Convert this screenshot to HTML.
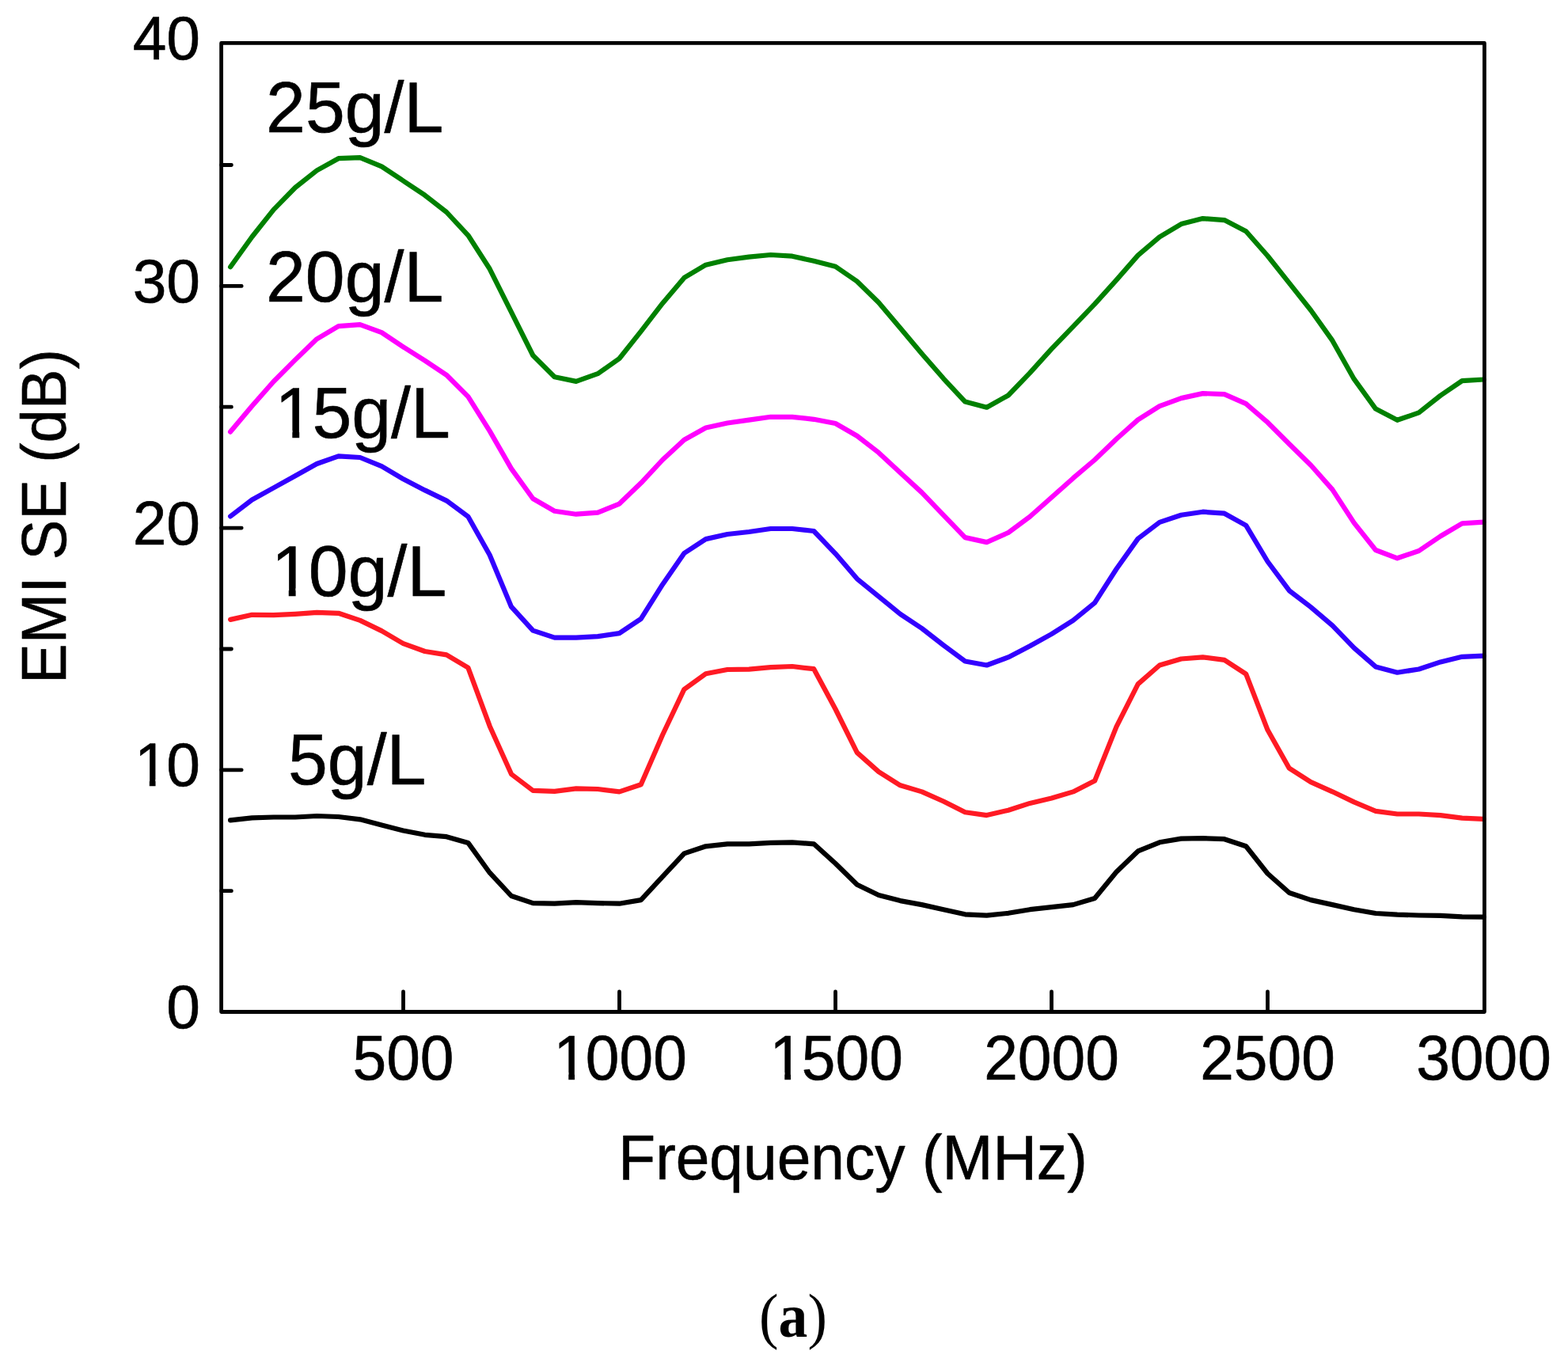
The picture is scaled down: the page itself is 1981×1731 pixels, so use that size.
<!DOCTYPE html>
<html lang="en">
<head>
<meta charset="utf-8">
<title>EMI SE versus Frequency</title>
<style>
html,body{margin:0;padding:0;background:#fff;}
html,body{width:1981px;height:1731px;}
svg{display:block;}
text{font-family:"Liberation Sans",Arial,Helvetica,sans-serif;fill:#000;stroke:#000;stroke-width:0.6px;stroke-linejoin:round;}
text.cap{font-family:"Liberation Serif","Times New Roman",serif;stroke:none;}
</style>
</head>
<body>
<svg width="1981" height="1731" viewBox="0 0 1981 1731">
<rect x="0" y="0" width="1981" height="1731" fill="#ffffff"/>
<g id="curves">
<polyline points="291.1,1036.3 318.4,1033.3 345.7,1032.5 373.0,1032.5 400.3,1031.0 427.6,1032.0 454.9,1035.3 482.2,1042.4 509.5,1049.5 536.8,1054.8 564.1,1057.2 591.4,1064.9 618.7,1102.7 646.0,1132.0 673.3,1141.1 700.6,1141.7 727.9,1140.1 755.2,1141.1 782.5,1141.7 809.8,1137.1 837.1,1107.7 864.4,1078.4 891.7,1069.3 919.0,1066.3 946.3,1066.3 973.6,1064.9 1000.9,1064.3 1028.2,1066.3 1055.5,1091.0 1082.8,1117.8 1110.1,1131.0 1137.4,1138.1 1164.7,1143.1 1192.0,1149.2 1219.3,1155.3 1246.6,1156.7 1273.9,1153.8 1301.2,1149.2 1328.5,1146.2 1355.8,1143.1 1383.1,1135.0 1410.4,1101.7 1437.7,1075.4 1465.0,1064.3 1492.3,1059.6 1519.6,1059.2 1546.9,1060.2 1574.2,1069.3 1601.5,1103.7 1628.8,1128.0 1656.1,1137.1 1683.4,1143.1 1710.7,1149.2 1738.0,1154.0 1765.3,1155.6 1792.6,1156.5 1819.9,1156.8 1847.2,1158.3 1874.5,1158.7" fill="none" stroke="#000000" stroke-width="6.2" stroke-linejoin="round" stroke-linecap="round"/>
<polyline points="291.1,782.9 318.4,776.8 345.7,777.2 373.0,775.8 400.3,773.8 427.6,774.8 454.9,783.9 482.2,797.1 509.5,813.2 536.8,823.0 564.1,827.4 591.4,843.6 618.7,917.4 646.0,978.1 673.3,998.9 700.6,999.8 727.9,996.4 755.2,997.0 782.5,1000.4 809.8,991.3 837.1,928.5 864.4,870.9 891.7,851.3 919.0,846.0 946.3,845.6 973.6,843.2 1000.9,842.0 1028.2,845.2 1055.5,896.0 1082.8,950.9 1110.1,975.1 1137.4,992.3 1164.7,1000.4 1192.0,1012.5 1219.3,1026.2 1246.6,1030.1 1273.9,1023.7 1301.2,1014.9 1328.5,1008.5 1355.8,1000.4 1383.1,986.6 1410.4,918.4 1437.7,864.3 1465.0,840.5 1492.3,832.5 1519.6,830.4 1546.9,833.9 1574.2,851.7 1601.5,922.3 1628.8,970.7 1656.1,988.2 1683.4,1000.3 1710.7,1013.4 1738.0,1024.9 1765.3,1028.5 1792.6,1028.5 1819.9,1030.2 1847.2,1033.6 1874.5,1034.9" fill="none" stroke="#ff1a24" stroke-width="6.2" stroke-linejoin="round" stroke-linecap="round"/>
<polyline points="291.1,652.4 318.4,631.5 345.7,616.4 373.0,601.2 400.3,586.0 427.6,576.3 454.9,578.0 482.2,589.1 509.5,605.3 536.8,619.4 564.1,632.6 591.4,652.8 618.7,701.3 646.0,766.7 673.3,796.6 700.6,805.6 727.9,805.6 755.2,804.1 782.5,800.1 809.8,781.9 837.1,738.4 864.4,699.0 891.7,681.1 919.0,675.0 946.3,672.0 973.6,668.0 1000.9,668.0 1028.2,671.0 1055.5,699.6 1082.8,731.3 1110.1,753.6 1137.4,775.8 1164.7,794.0 1192.0,815.3 1219.3,835.5 1246.6,840.5 1273.9,830.4 1301.2,816.3 1328.5,801.1 1355.8,783.9 1383.1,761.7 1410.4,719.0 1437.7,680.6 1465.0,659.9 1492.3,650.8 1519.6,646.7 1546.9,648.7 1574.2,663.9 1601.5,709.5 1628.8,746.2 1656.1,767.1 1683.4,790.4 1710.7,818.7 1738.0,842.4 1765.3,849.7 1792.6,845.5 1819.9,836.4 1847.2,829.8 1874.5,828.6" fill="none" stroke="#3300ff" stroke-width="6.2" stroke-linejoin="round" stroke-linecap="round"/>
<polyline points="291.1,545.6 318.4,513.0 345.7,482.0 373.0,454.6 400.3,428.3 427.6,412.1 454.9,410.1 482.2,420.2 509.5,438.4 536.8,455.6 564.1,473.8 591.4,501.1 618.7,544.6 646.0,592.1 673.3,630.0 700.6,645.7 727.9,649.7 755.2,647.7 782.5,636.6 809.8,610.3 837.1,581.0 864.4,555.7 891.7,540.5 919.0,534.5 946.3,530.6 973.6,526.8 1000.9,526.8 1028.2,529.8 1055.5,535.0 1082.8,550.7 1110.1,571.9 1137.4,597.2 1164.7,622.4 1192.0,650.8 1219.3,679.1 1246.6,685.1 1273.9,673.0 1301.2,652.8 1328.5,628.5 1355.8,604.2 1383.1,581.0 1410.4,554.7 1437.7,530.4 1465.0,513.2 1492.3,503.1 1519.6,497.1 1546.9,498.1 1574.2,510.2 1601.5,533.7 1628.8,561.0 1656.1,587.8 1683.4,618.6 1710.7,660.6 1738.0,695.0 1765.3,705.3 1792.6,696.0 1819.9,677.5 1847.2,661.3 1874.5,659.7" fill="none" stroke="#ff00ff" stroke-width="6.2" stroke-linejoin="round" stroke-linecap="round"/>
<polyline points="291.1,337.3 318.4,299.3 345.7,264.9 373.0,237.0 400.3,215.4 427.6,200.2 454.9,199.2 482.2,210.3 509.5,228.5 536.8,246.7 564.1,268.0 591.4,297.3 618.7,339.8 646.0,394.4 673.3,449.0 700.6,476.3 727.9,481.9 755.2,472.2 782.5,453.0 809.8,418.6 837.1,383.2 864.4,350.9 891.7,334.7 919.0,328.2 946.3,324.6 973.6,322.0 1000.9,323.7 1028.2,329.8 1055.5,336.7 1082.8,355.5 1110.1,382.2 1137.4,414.6 1164.7,446.9 1192.0,478.3 1219.3,507.6 1246.6,514.7 1273.9,499.5 1301.2,471.2 1328.5,440.9 1355.8,412.6 1383.1,384.2 1410.4,353.9 1437.7,322.6 1465.0,299.3 1492.3,283.1 1519.6,276.1 1546.9,278.1 1574.2,292.2 1601.5,323.2 1628.8,357.6 1656.1,392.0 1683.4,430.4 1710.7,478.9 1738.0,516.6 1765.3,530.8 1792.6,521.4 1819.9,499.7 1847.2,481.1 1874.5,479.5" fill="none" stroke="#008000" stroke-width="6.2" stroke-linejoin="round" stroke-linecap="round"/>
</g>
<rect x="279.6" y="54.4" width="1595.8" height="1224.1" fill="none" stroke="#000" stroke-width="4.8" stroke-linejoin="round"/>
<path d="M279.6,1125.7h12.8 M279.6,972.8h25.6 M279.6,820.0h12.8 M279.6,667.1h25.6 M279.6,514.2h12.8 M279.6,361.4h25.6 M279.6,208.5h12.8 M509.5,1278.5v-25.6 M782.5,1278.5v-25.6 M1055.5,1278.5v-25.6 M1328.5,1278.5v-25.6 M1601.5,1278.5v-25.6" fill="none" stroke="#000" stroke-width="4.8" stroke-linecap="round"/>
<g id="labels">
<text transform="translate(253.00,1299.10) scale(1,1.022)" font-size="76.7" text-anchor="end">0</text>
<text transform="translate(167.68,993.40) scale(1,1.022)" font-size="76.7" dx="2.30 -2.30">10</text>
<text transform="translate(253.00,687.70) scale(1,1.022)" font-size="76.7" text-anchor="end">20</text>
<text transform="translate(253.00,382.00) scale(1,1.022)" font-size="76.7" text-anchor="end">30</text>
<text transform="translate(253.00,75.20) scale(1,1.022)" font-size="76.7" text-anchor="end">40</text>
<text transform="translate(509.50,1363.50) scale(1,1.035)" font-size="76.7" text-anchor="middle">500</text>
<text transform="translate(697.18,1363.50) scale(1,1.035)" font-size="76.7" dx="2.30 -2.30">1000</text>
<text transform="translate(970.18,1363.50) scale(1,1.035)" font-size="76.7" dx="2.30 -2.30">1500</text>
<text transform="translate(1328.50,1363.50) scale(1,1.035)" font-size="76.7" text-anchor="middle">2000</text>
<text transform="translate(1601.50,1363.50) scale(1,1.035)" font-size="76.7" text-anchor="middle">2500</text>
<text transform="translate(1874.50,1363.50) scale(1,1.035)" font-size="76.7" text-anchor="middle">3000</text>
<text transform="translate(1077.50,1489.60) scale(1,1.035)" font-size="76.7" text-anchor="middle">Frequency (MHz)</text>
<text transform="translate(82.90,652.50) rotate(-90) scale(1,1.043)" font-size="76.1" text-anchor="middle">EMI SE (dB)</text>
<text transform="translate(336.10,167.30) scale(1,1.02)" font-size="89.6">25g/L</text>
<text transform="translate(336.00,381.20) scale(1,1.02)" font-size="89.6">20g/L</text>
<text transform="translate(344.60,553.30) scale(1,1.02)" font-size="89.6" dx="2.69 -2.69">15g/L</text>
<text transform="translate(340.00,752.70) scale(1,1.02)" font-size="89.6" dx="2.69 -2.69">10g/L</text>
<text transform="translate(364.00,990.80) scale(1,1.02)" font-size="89.6">5g/L</text>
</g>
<g id="glyphfix" fill="#ffffff">
<rect x="174.31" y="984.96" width="14.47" height="11.04"/>
<rect x="196.51" y="984.96" width="13.86" height="11.04"/>
<rect x="703.81" y="1354.99" width="14.47" height="11.11"/>
<rect x="726.01" y="1354.99" width="13.86" height="11.11"/>
<rect x="976.81" y="1354.99" width="14.47" height="11.11"/>
<rect x="999.01" y="1354.99" width="13.86" height="11.11"/>
<rect x="352.60" y="543.89" width="16.73" height="12.01"/>
<rect x="378.20" y="543.89" width="16.01" height="12.01"/>
<rect x="348.00" y="743.29" width="16.73" height="12.01"/>
<rect x="373.60" y="743.29" width="16.01" height="12.01"/>
</g>
<text class="cap" transform="translate(1002.0,1689.1) scale(1,1.075)" font-size="73.6" text-anchor="middle">(<tspan font-weight="bold">a</tspan>)</text>
</svg>
</body>
</html>
